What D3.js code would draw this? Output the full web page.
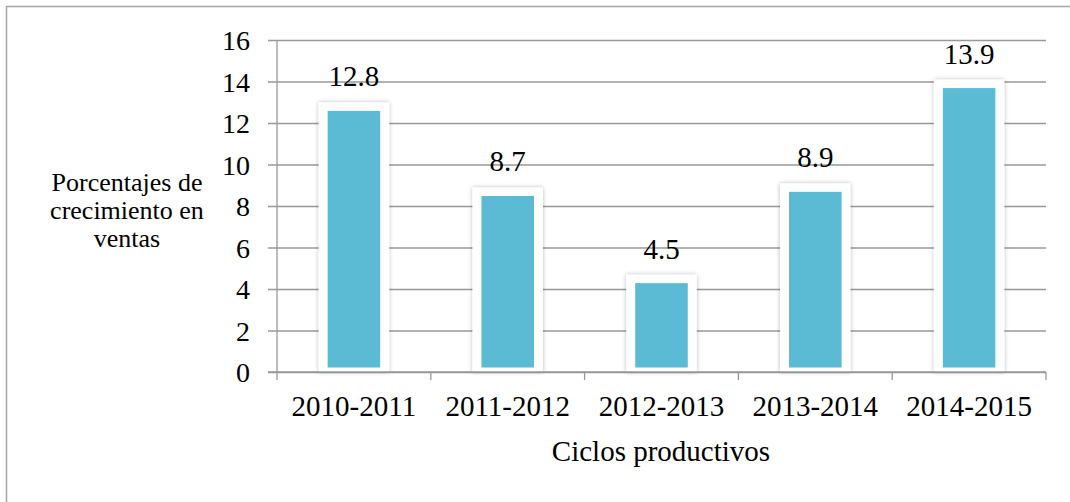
<!DOCTYPE html>
<html>
<head>
<meta charset="utf-8">
<script src="https://cdn.jsdelivr.net/npm/d3@7"></script>
<style>
  html, body { margin: 0; padding: 0; background: #fff; }
  svg { display: block; }
</style>
</head>
<body>
<svg id="chart" width="1070" height="502"></svg>
<script>
const categories = ["2010-2011", "2011-2012", "2012-2013", "2013-2014", "2014-2015"];
const values = [12.8, 8.7, 4.5, 8.9, 13.9];
const yTicks = [0, 2, 4, 6, 8, 10, 12, 14, 16];
const yTitleLines = ["Porcentajes de", "crecimiento en", "ventas"];
const xTitle = "Ciclos productivos";

const FONT = "'Liberation Serif', 'Times New Roman', Tinos, 'DejaVu Serif', serif";

const svg = d3.select("#chart");

// outer chart border
svg.append("rect")
  .attr("x", 6.5).attr("y", 6.5)
  .attr("width", 1080).attr("height", 520)
  .attr("fill", "none").attr("stroke", "#a6a6a6").attr("stroke-width", 1.5);

const plot = { left: 277, right: 1046, top: 40, bottom: 372 };

const x = d3.scaleBand().domain(categories)
  .range([plot.left, plot.right]).paddingInner(0.6).paddingOuter(0.3);
const xOuter = d3.scaleBand().domain(categories).range([plot.left, plot.right]);
const y = d3.scaleLinear().domain([0, 16]).range([plot.bottom, plot.top]);

// drop shadow filter
const defs = svg.append("defs");
const f = defs.append("filter").attr("id", "shadow")
  .attr("x", "-30%").attr("y", "-30%").attr("width", "160%").attr("height", "160%");
f.append("feDropShadow").attr("dx", 0).attr("dy", 0).attr("stdDeviation", 2.2)
  .attr("flood-color", "#000").attr("flood-opacity", 0.28);

// y gridlines with left tick stubs
const yAxis = d3.axisLeft(y).tickValues(yTicks)
  .tickSize(-(plot.right - plot.left) - 9).tickFormat("");
svg.append("g").attr("transform", `translate(${plot.left - 9},0)`)
  .call(yAxis)
  .call(g => g.select(".domain").remove())
  .call(g => g.selectAll(".tick line").attr("stroke", "#999").attr("stroke-width", 1.3));

// y axis line
svg.append("line")
  .attr("x1", plot.left).attr("x2", plot.left)
  .attr("y1", plot.top).attr("y2", plot.bottom)
  .attr("stroke", "#999").attr("stroke-width", 1.3);

const txt = svg.append("g").attr("font-family", FONT).attr("fill", "#000");

// y tick labels
txt.append("g").selectAll("text").data(yTicks).join("text")
  .attr("x", 250).attr("y", d => y(d) + 10)
  .attr("text-anchor", "end")
  .attr("font-size", 28)
  .text(d => d);

// category tick marks at band boundaries
const boundaries = categories.map(c => xOuter(c)).concat([plot.right]);
svg.append("g").selectAll("line").data(boundaries).join("line")
  .attr("x1", d => d).attr("x2", d => d)
  .attr("y1", plot.bottom).attr("y2", plot.bottom + 8)
  .attr("stroke", "#999").attr("stroke-width", 1.3);

// bars: white outlined with soft shadow
const bars = svg.append("g");
bars.selectAll("rect.outer").data(values).join("rect")
  .attr("class", "outer")
  .attr("x", (d, i) => x(categories[i]) - 4.5)
  .attr("y", d => y(d) - 4)
  .attr("width", x.bandwidth() + 9)
  .attr("height", d => y(0) - y(d) + 4)
  .attr("fill", "#fff")
  .attr("filter", "url(#shadow)");
bars.selectAll("rect.inner").data(values).join("rect")
  .attr("class", "inner")
  .attr("x", (d, i) => x(categories[i]) + 4.5)
  .attr("y", d => y(d) + 4.5)
  .attr("width", x.bandwidth() - 9)
  .attr("height", d => y(0) - y(d) - 9)
  .attr("fill", "#5bbad4");

// redraw bottom axis line over bar shadows
svg.append("line")
  .attr("x1", plot.left - 9).attr("x2", plot.right)
  .attr("y1", plot.bottom).attr("y2", plot.bottom)
  .attr("stroke", "#999").attr("stroke-width", 1.3);

const txt2 = svg.append("g").attr("font-family", FONT).attr("fill", "#000");

// data labels
txt2.append("g").selectAll("text").data(values).join("text")
  .attr("x", (d, i) => x(categories[i]) + x.bandwidth() / 2)
  .attr("y", d => y(d) - 20)
  .attr("text-anchor", "middle")
  .attr("font-size", 29)
  .text(d => d.toFixed(1));

// category labels
txt2.append("g").selectAll("text").data(categories).join("text")
  .attr("x", d => x(d) + x.bandwidth() / 2)
  .attr("y", 416)
  .attr("text-anchor", "middle")
  .attr("font-size", 29)
  .text(d => d);

// y title
txt2.append("g").selectAll("text").data(yTitleLines).join("text")
  .attr("x", 127)
  .attr("y", (d, i) => 191 + i * 28)
  .attr("text-anchor", "middle")
  .attr("font-size", 26)
  .text(d => d);

// x title
txt2.append("text")
  .attr("x", 661).attr("y", 461)
  .attr("text-anchor", "middle")
  .attr("font-size", 29)
  .text(xTitle);
</script>
</body>
</html>
